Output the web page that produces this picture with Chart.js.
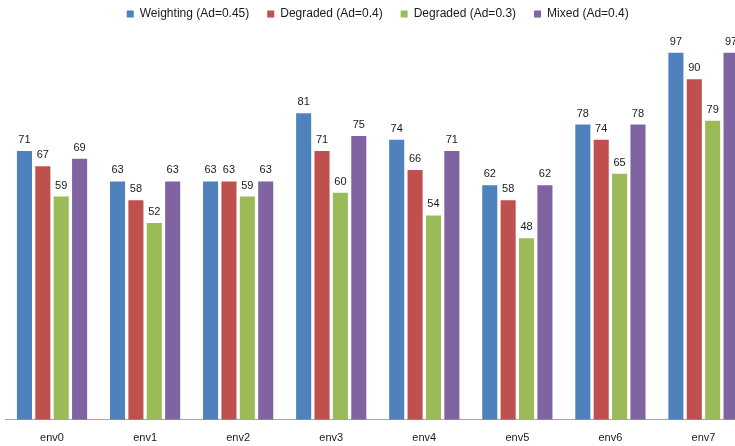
<!DOCTYPE html>
<html>
<head>
<meta charset="utf-8">
<script src="https://cdn.jsdelivr.net/npm/chart.js@4"></script>
<style>
  html, body { margin: 0; padding: 0; background: #fff; overflow: hidden; }
  #wrap { width: 750px; height: 457px; }
</style>
</head>
<body>
<div id="wrap"><canvas id="grafica"></canvas></div>
<script>
const categorias = ['env0', 'env1', 'env2', 'env3', 'env4', 'env5', 'env6', 'env7'];
const weighting = [71, 63, 63, 81, 74, 62, 78, 97];
const degraded04 = [67, 58, 63, 71, 66, 58, 74, 90];
const degraded03 = [59, 52, 59, 60, 54, 48, 65, 79];
const mixed = [69, 63, 63, 75, 71, 62, 78, 97];

const fuente = "'Liberation Sans', 'DejaVu Sans', sans-serif";

// etiquetas de valor encima de cada barra
const etiquetas = {
  id: 'etiquetas',
  afterDatasetsDraw(chart) {
    const c = chart.ctx;
    c.save();
    c.font = '11px ' + fuente;
    c.fillStyle = '#1a1a1a';
    c.textAlign = 'center';
    c.textBaseline = 'alphabetic';
    chart.data.datasets.forEach((ds, i) => {
      chart.getDatasetMeta(i).data.forEach((bar, j) => {
        c.fillText(ds.data[j], bar.x, bar.y - 8);
      });
    });
    c.restore();
  }
};

const ctx = document.getElementById('grafica').getContext('2d');
new Chart(ctx, {
  type: 'bar',
  data: {
    labels: categorias,
    datasets: [
      { label: 'Weighting (Ad=0.45)', data: weighting, backgroundColor: '#4F81BD' },
      { label: 'Degraded (Ad=0.4)', data: degraded04, backgroundColor: '#C0504D' },
      { label: 'Degraded (Ad=0.3)', data: degraded03, backgroundColor: '#9BBB59' },
      { label: 'Mixed (Ad=0.4)', data: mixed, backgroundColor: '#8064A2' }
    ]
  },
  options: {
    responsive: true,
    maintainAspectRatio: false,
    animation: false,
    layout: { padding: { left: 5.5, right: 0, top: -10, bottom: 0 } },
    categoryPercentage: 0.79,
    barPercentage: 0.82,
    plugins: {
      tooltip: { enabled: false },
      legend: {
        position: 'top',
        labels: {
          boxWidth: 7,
          boxHeight: 7,
          padding: 18,
          color: '#1a1a1a',
          font: { family: fuente, size: 12 }
        }
      }
    },
    scales: {
      x: {
        grid: { display: false, drawTicks: false },
        border: { display: true, color: '#a6a6a6', width: 1 },
        ticks: { color: '#1a1a1a', padding: 12, font: { family: fuente, size: 11 } }
      },
      y: {
        display: false,
        min: 0,
        max: 103
      }
    }
  },
  plugins: [etiquetas]
});
</script>
</body>
</html>
